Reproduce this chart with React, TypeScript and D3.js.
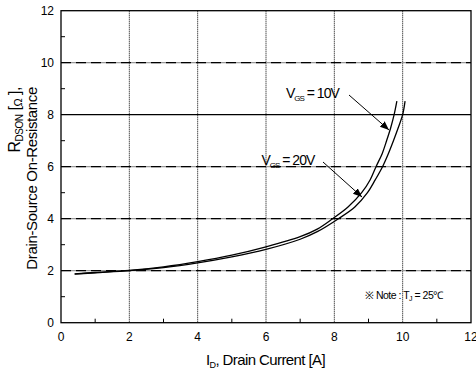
import React from "react";
import * as d3 from "d3";

const xTicks = [0, 2, 4, 6, 8, 10, 12];
const yTicks = [0, 2, 4, 6, 8, 10, 12];
const minorTicks = [1, 3, 5, 7, 9, 11];
const dashedGrid = [2, 4, 6, 10];
const solidGrid = [8];

const curve10x = [0.4, 1, 2, 3, 4, 5, 6, 7, 7.5, 7.95, 8.4, 8.8, 9.05, 9.22, 9.4, 9.53, 9.65, 9.75, 9.83];
const curve10y = [1.88, 1.93, 2.01, 2.15, 2.35, 2.6, 2.92, 3.31, 3.6, 4.0, 4.45, 5.0, 5.5, 6.0, 6.5, 7.0, 7.5, 8.0, 8.52];
const curve20x = [0.4, 1, 2, 3, 4, 5, 6, 7, 7.5, 8.12, 8.6, 8.97, 9.2, 9.41, 9.58, 9.73, 9.87, 10.0, 10.07];
const curve20y = [1.87, 1.92, 2.0, 2.12, 2.3, 2.53, 2.82, 3.21, 3.5, 4.0, 4.45, 5.0, 5.5, 6.0, 6.5, 7.0, 7.5, 8.0, 8.52];

const FONT = "Liberation Sans, Arial, sans-serif";

export default function App() {
  const W = 476, H = 377;
  const x = d3.scaleLinear().domain([0, 12]).range([61, 471]);
  const y = d3.scaleLinear().domain([0, 12]).range([322.7, 10.7]);
  const line = d3
    .line<[number, number]>()
    .x((d) => x(d[0]))
    .y((d) => y(d[1]))
    .curve(d3.curveCatmullRom.alpha(0.5));
  const d10 = line(curve10x.map((v, i) => [v, curve10y[i]]) as [number, number][]) || "";
  const d20 = line(curve20x.map((v, i) => [v, curve20y[i]]) as [number, number][]) || "";

  return (
    <svg width={W} height={H} style={{ position: "absolute", left: 0, top: 0, background: "#fff" }} fontFamily={FONT}>
      <defs>
        <marker id="ah" viewBox="0 0 10 10" refX="10" refY="5" markerWidth="9" markerHeight="9" markerUnits="userSpaceOnUse" orient="auto">
          <path d="M0,1 L10,5 L0,9 Z" fill="#000" />
        </marker>
      </defs>
      <rect x={0} y={0} width={W} height={H} fill="#fff" />
      {[2, 4, 6, 8, 10].map((v) => (
        <line key={"vx" + v} x1={x(v)} x2={x(v)} y1={y(12)} y2={y(0)} stroke="#000" strokeWidth={1} strokeDasharray="1,1" />
      ))}
      {dashedGrid.map((v) => (
        <g key={"hg" + v}>
          <line x1={x(0)} x2={x(12)} y1={y(v)} y2={y(v)} stroke="#999" strokeWidth={1.3} />
          <line x1={x(0)} x2={x(12)} y1={y(v)} y2={y(v)} stroke="#000" strokeWidth={1.3} strokeDasharray="10,5" />
        </g>
      ))}
      {solidGrid.map((v) => (
        <line key={"sg" + v} x1={x(0)} x2={x(12)} y1={y(v)} y2={y(v)} stroke="#000" strokeWidth={1.2} />
      ))}
      <rect x={x(0)} y={y(12)} width={x(12) - x(0)} height={y(0) - y(12)} fill="none" stroke="#000" strokeWidth={1.3} />
      {minorTicks.map((v) => (
        <g key={"mt" + v}>
          <line x1={x(v)} x2={x(v)} y1={y(0)} y2={y(0) - 4} stroke="#000" strokeWidth={1} />
          <line x1={x(0)} x2={x(0) + 4} y1={y(v)} y2={y(v)} stroke="#000" strokeWidth={1} />
        </g>
      ))}
      {xTicks.map((v) => (
        <text key={"xt" + v} x={x(v)} y={341} textAnchor="middle" fontSize={12} fill="#000">{v}</text>
      ))}
      {yTicks.map((v) => (
        <text key={"yt" + v} x={54} y={y(v) + 4.5} textAnchor="end" fontSize={12} fill="#000">{v}</text>
      ))}
      <path d={d10} fill="none" stroke="#000" strokeWidth={1.3} />
      <path d={d20} fill="none" stroke="#000" strokeWidth={1.3} />
      <text x={286} y={98} fontSize={14} fill="#000" letterSpacing={-1}>
        V<tspan fontSize={8} dy={3}>GS</tspan><tspan dy={-3}> = 10V</tspan>
      </text>
      <line x1={349} y1={95} x2={389} y2={130} stroke="#000" strokeWidth={1} markerEnd="url(#ah)" />
      <text x={261.5} y={165} fontSize={14} fill="#000" letterSpacing={-1}>
        V<tspan fontSize={8} dy={3}>GS</tspan><tspan dy={-3}> = 20V</tspan>
      </text>
      <line x1={323} y1={162} x2={362} y2={197} stroke="#000" strokeWidth={1} markerEnd="url(#ah)" />
      <text x={365} y={299} fontSize={10.5} fill="#000" letterSpacing={-0.5}>
        ※ Note : T<tspan fontSize={7} dy={2}>J</tspan><tspan dy={-2}> = 25℃</tspan>
      </text>
      <text x={206} y={365} fontSize={15} fill="#000" letterSpacing={-0.6}>
        I<tspan fontSize={9} dy={3}>D</tspan><tspan dy={-3}>, Drain Current [A]</tspan>
      </text>
      <g transform="translate(20,87) rotate(-90)">
        <text x={0} y={0} textAnchor="end" fontSize={16} fill="#000" letterSpacing={-0.5}>
          R<tspan fontSize={10} dy={3}>DSON</tspan><tspan dy={-3}> [</tspan><tspan fontSize={11} dy={2}>Ω</tspan><tspan dy={-2}> ],</tspan>
        </text>
      </g>
      <g transform="translate(37,87) rotate(-90)">
        <text x={0} y={0} textAnchor="end" fontSize={15} fill="#000" letterSpacing={-0.35}>
          Drain-Source On-Resistance
        </text>
      </g>
    </svg>
  );
}
